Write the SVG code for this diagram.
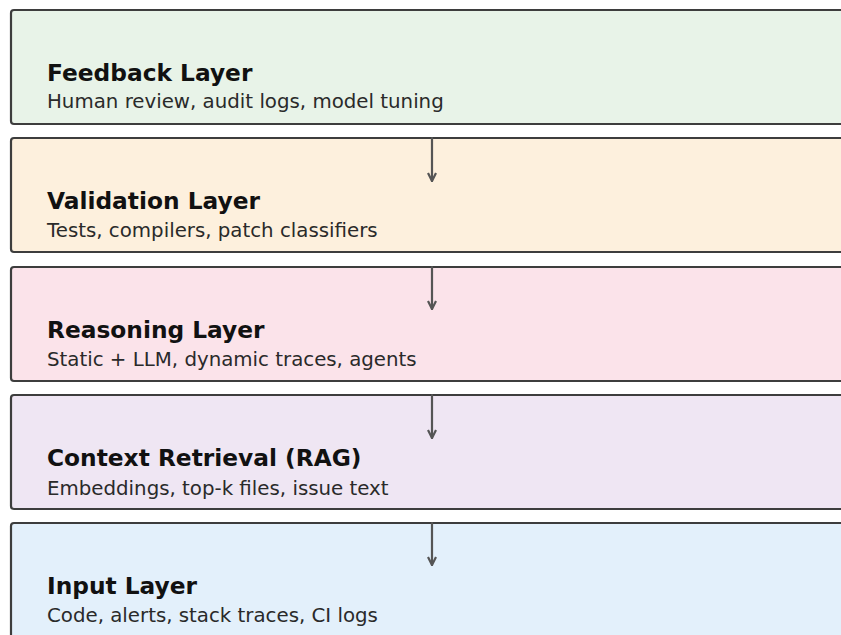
<svg xmlns="http://www.w3.org/2000/svg" width="841" height="635" viewBox="0 0 841 635">
<style>
.box{stroke:#3d3d3d;stroke-width:2.2}
.t{font-family:"DejaVu Sans",sans-serif;font-weight:bold;font-size:23.3px;fill:#111}
.s{font-family:"DejaVu Sans",sans-serif;font-size:19.8px;fill:#2a2a2a}
.arr{stroke:#555;stroke-width:2.2;fill:none;stroke-linecap:round}
</style>
<defs>
<marker id="ah" viewBox="0 0 10 10" refX="9" refY="5" markerWidth="10" markerHeight="11" markerUnits="userSpaceOnUse" orient="auto">
<path d="M1,1 L9,5 L1,9" fill="none" stroke="#555" stroke-width="2.2"/>
</marker>
</defs>
<rect width="841" height="635" fill="#ffffff"/>
<g id="feedback">
<rect class="box" x="11" y="10" width="845" height="114" rx="3" fill="#e8f3e8"/>
<text class="t" x="47" y="81">Feedback Layer</text>
<text class="s" x="47" y="108">Human review, audit logs, model tuning</text>
</g>
<g id="validation">
<rect class="box" x="11" y="138" width="845" height="114" rx="3" fill="#fdf0dd"/>
<text class="t" x="47" y="209">Validation Layer</text>
<text class="s" x="47" y="237">Tests, compilers, patch classifiers</text>
</g>
<g id="reasoning">
<rect class="box" x="11" y="267" width="845" height="114" rx="3" fill="#fbe3ea"/>
<text class="t" x="47" y="338">Reasoning Layer</text>
<text class="s" x="47" y="366">Static + LLM, dynamic traces, agents</text>
</g>
<g id="context">
<rect class="box" x="11" y="395" width="845" height="114" rx="3" fill="#efe6f3"/>
<text class="t" x="47" y="466">Context Retrieval (RAG)</text>
<text class="s" x="47" y="495">Embeddings, top-k files, issue text</text>
</g>
<g id="input">
<rect class="box" x="11" y="523" width="845" height="130" rx="3" fill="#e3f0fb"/>
<text class="t" x="47" y="594">Input Layer</text>
<text class="s" x="47" y="622">Code, alerts, stack traces, CI logs</text>
</g>
<g id="connectors">
<line class="arr" x1="432" y1="138" x2="432" y2="181" marker-end="url(#ah)"/>
<line class="arr" x1="432" y1="267" x2="432" y2="309" marker-end="url(#ah)"/>
<line class="arr" x1="432" y1="395" x2="432" y2="438" marker-end="url(#ah)"/>
<line class="arr" x1="432" y1="523" x2="432" y2="565" marker-end="url(#ah)"/>
</g>
</svg>
